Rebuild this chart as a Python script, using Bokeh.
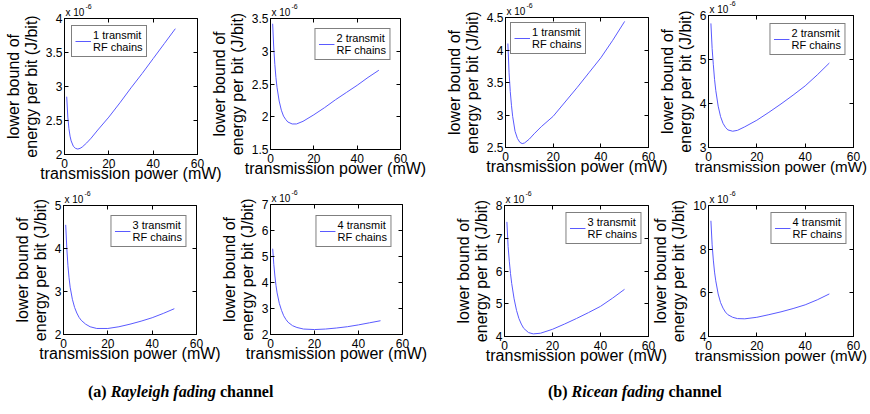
from bokeh.plotting import figure
from bokeh.models import (Range1d, FixedTicker, LinearAxis, Legend, LegendItem,
                          Title, Div, CustomJSTickFormatter)
from bokeh.layouts import column, row
from bokeh.embed import file_html
from bokeh.resources import INLINE

# ---------------- data (values in units of 1e-6 J/bit) ----------------
power_mw = [1, 1.5, 2, 2.5, 3, 4, 5, 6, 7, 8, 10, 12, 15, 20, 25, 30, 35, 40, 45, 50]

rayleigh_1tx = [2.85, 2.55, 2.38, 2.27, 2.20, 2.12, 2.09, 2.08, 2.09, 2.11, 2.17, 2.24,
                2.36, 2.55, 2.76, 2.98, 3.19, 3.41, 3.63, 3.85]
rayleigh_2tx = [3.42, 3.05, 2.80, 2.60, 2.45, 2.24, 2.10, 2.01, 1.96, 1.92, 1.89, 1.89,
                1.93, 2.03, 2.14, 2.26, 2.37, 2.48, 2.60, 2.71]
rayleigh_3tx = [4.55, 4.00, 3.60, 3.32, 3.10, 2.82, 2.63, 2.50, 2.40, 2.33, 2.24, 2.18,
                2.14, 2.14, 2.18, 2.24, 2.31, 2.39, 2.49, 2.60]
rayleigh_4tx = [5.30, 4.70, 4.25, 3.88, 3.60, 3.20, 2.93, 2.72, 2.58, 2.47, 2.34, 2.27,
                2.21, 2.19, 2.21, 2.25, 2.30, 2.37, 2.45, 2.53]
ricean_1tx = [4.10, 3.65, 3.36, 3.15, 2.98, 2.75, 2.64, 2.58, 2.56, 2.57, 2.63, 2.71,
              2.82, 2.98, 3.20, 3.42, 3.65, 3.88, 4.15, 4.44]
ricean_2tx = [5.82, 5.25, 4.88, 4.55, 4.30, 3.94, 3.70, 3.55, 3.46, 3.40, 3.37, 3.39,
              3.47, 3.62, 3.80, 3.99, 4.19, 4.40, 4.65, 4.92]
ricean_3tx = [7.50, 6.75, 6.30, 5.92, 5.62, 5.15, 4.80, 4.55, 4.38, 4.25, 4.12, 4.08,
              4.10, 4.22, 4.38, 4.55, 4.73, 4.92, 5.17, 5.44]
ricean_4tx = [9.30, 8.20, 7.50, 6.95, 6.55, 5.95, 5.55, 5.30, 5.12, 5.00, 4.88, 4.82,
              4.81, 4.88, 5.00, 5.13, 5.28, 5.45, 5.68, 5.95]

x_ticks = [0, 20, 40, 60]
rayleigh_1tx_yticks = [2, 2.5, 3, 3.5, 4]
rayleigh_2tx_yticks = [1.5, 2, 2.5, 3, 3.5]
rayleigh_3tx_yticks = [2, 3, 4, 5]
rayleigh_4tx_yticks = [2, 3, 4, 5, 6, 7]
ricean_1tx_yticks = [2.5, 3, 3.5, 4, 4.5]
ricean_2tx_yticks = [3, 4, 5, 6]
ricean_3tx_yticks = [4, 5, 6, 7, 8]
ricean_4tx_yticks = [4, 6, 8, 10]

legend_labels = ["1 transmit\nRF chains", "2 transmit\nRF chains",
                 "3 transmit\nRF chains", "4 transmit\nRF chains"]
x_label = "transmission power (mW)"
y_label = "lower bound of\nenergy per bit (J/bit)"
exponent_base = "x 10"
exponent_power = "-6"
caption_a = ("(a) ", "Rayleigh fading", " channel")
caption_b = ("(b) ", "Ricean fading", " channel")

# ---------------- layout / style ----------------
FONT = "Liberation Sans"
LINE_COLOR = "#5a5aff"
BL, BR, BT, BB = 72, 30, 22, 46


def fmt(v):
    return f"{v:g}"


def make_panel(series, yticks, label, frame, leg_loc, leg_margin, right_pad=BR,
               xlabel_size="16px"):
    L, R, T, B = frame
    fw, fh = R - L, B - T
    w = BL + fw + right_pad
    h = BT + fh + BB
    p = figure(width=w, height=h, output_backend="svg", toolbar_location=None,
               x_range=Range1d(x_ticks[0], x_ticks[-1]),
               y_range=Range1d(yticks[0], yticks[-1]),
               min_border_left=BL, min_border_right=right_pad,
               min_border_top=BT, min_border_bottom=BB,
               title=exponent_power)
    p.border_fill_color = None
    p.background_fill_color = "white"
    p.outline_line_color = "black"
    p.outline_line_width = 1
    p.xgrid.visible = False
    p.ygrid.visible = False

    r = p.line(power_mw, series, line_color=LINE_COLOR, line_width=1)

    for ax, ticks in ((p.xaxis[0], x_ticks), (p.yaxis[0], yticks)):
        ax.ticker = FixedTicker(ticks=ticks)
        ax.major_label_overrides = {t: fmt(t) for t in ticks}
        ax.major_tick_in = 4
        ax.major_tick_out = 0
        ax.minor_tick_line_color = None
        ax.axis_line_color = "black"
        ax.major_tick_line_color = "black"
        ax.major_label_text_font = FONT
        ax.major_label_text_font_size = "12px"
        ax.major_label_text_color = "black"
        ax.axis_label_text_font = FONT
        ax.axis_label_text_font_size = "16px"
        ax.axis_label_text_font_style = "normal"
        ax.axis_label_text_color = "black"
        ax.axis_label_text_line_height = 1.05
    p.xaxis[0].axis_label = x_label
    p.xaxis[0].axis_label_text_font_size = xlabel_size
    p.xaxis[0].major_label_standoff = 4
    p.xaxis[0].axis_label_standoff = -6
    p.yaxis[0].axis_label = y_label
    p.yaxis[0].major_label_standoff = 2
    p.yaxis[0].axis_label_standoff = 3

    # MATLAB-style box ticks on top / right
    for loc, ticks in (("above", x_ticks), ("right", yticks)):
        ax = LinearAxis(ticker=FixedTicker(ticks=ticks),
                        formatter=CustomJSTickFormatter(code="return ''"))
        ax.major_tick_in = 4
        ax.major_tick_out = 0
        ax.minor_tick_line_color = None
        ax.axis_line_color = None
        ax.major_label_text_color = None
        ax.major_label_standoff = 0
        p.add_layout(ax, loc)

    # exponent "x 10^-6" above the top-left corner of the frame
    p.add_layout(Title(text=exponent_base, align="left", offset=1, standoff=1,
                       text_font=FONT, text_font_size="10px",
                       text_font_style="normal", text_color="black"), "above")
    p.title.align = "left"
    p.title.offset = 21
    p.title.standoff = -8
    p.title.text_font = FONT
    p.title.text_font_size = "7px"
    p.title.text_font_style = "normal"
    p.title.text_color = "black"

    leg = Legend(items=[LegendItem(label=label, renderers=[r])],
                 location=leg_loc, margin=leg_margin, padding=3, spacing=0,
                 glyph_width=16, glyph_height=14, label_standoff=2,
                 label_text_font=FONT, label_text_font_size="11px",
                 label_text_line_height=1.05,
                 label_text_color="black", border_line_color="black",
                 border_line_width=1, background_fill_color="white",
                 background_fill_alpha=1)
    p.add_layout(leg)
    return p, (L - BL, T - BT, w, h)


# frame boxes (left, right, top, bottom) in page pixels
panels_row1 = [
    make_panel(rayleigh_1tx, rayleigh_1tx_yticks, legend_labels[0], (64, 197, 18, 154), "top_left", 7),
    make_panel(rayleigh_2tx, rayleigh_2tx_yticks, legend_labels[1], (270, 400, 18, 149), "top_right", 10),
    make_panel(ricean_1tx, ricean_1tx_yticks, legend_labels[0], (505, 648, 17, 147), "top_left", 5),
    make_panel(ricean_2tx, ricean_2tx_yticks, legend_labels[1], (708, 853, 15, 147), "top_right", 8,
               right_pad=17, xlabel_size="15.2px"),
]
panels_row2 = [
    make_panel(rayleigh_3tx, rayleigh_3tx_yticks, legend_labels[2], (63, 196, 205, 334), "top_right", 10),
    make_panel(rayleigh_4tx, rayleigh_4tx_yticks, legend_labels[3], (270, 402, 204, 334), "top_right", 11),
    make_panel(ricean_3tx, ricean_3tx_yticks, legend_labels[2], (504, 648, 205, 336), "top_right", 7),
    make_panel(ricean_4tx, ricean_4tx_yticks, legend_labels[3], (708, 853, 205, 336), "top_right", 7,
               right_pad=17, xlabel_size="15.2px"),
]

ORIGIN_X = 0


def build_row(panels, row_top, row_h):
    prev_right = ORIGIN_X
    figs = []
    for p, (cl, ct, w, h) in panels:
        ml = cl - prev_right
        mt = ct - row_top
        mb = row_h - mt - h
        p.margin = (mt, 0, mb, ml)
        prev_right = cl + w
        figs.append(p)
    return row(figs, spacing=0)


row1 = build_row(panels_row1, 0, 190)
row2 = build_row(panels_row2, 190, 178)


def cap_html(parts, left):
    return (f'<span style="position:absolute;left:{left}px;top:13px;white-space:nowrap">'
            f'{parts[0]}<i>{parts[1]}</i>{parts[2]}</span>')


caption = Div(text=('<div style="position:relative;width:860px;height:36px;'
                    'font-family:\'Liberation Serif\';font-weight:bold;font-size:16px;color:black">'
                    + cap_html(caption_a, 88) + cap_html(caption_b, 548) + '</div>'),
              width=860, height=36, margin=0)

layout = column(row1, row2, caption, spacing=0)

open("out.html", "w").write(file_html(layout, INLINE))
